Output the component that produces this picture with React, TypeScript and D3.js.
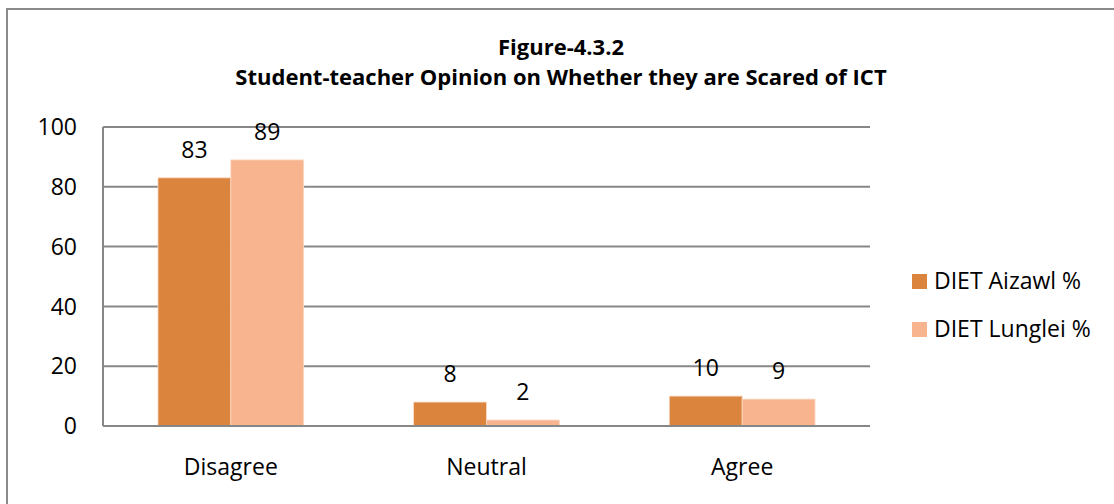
import React from "react";
import * as d3 from "d3";

const categories = ["Disagree", "Neutral", "Agree"];
const seriesNames = ["DIET Aizawl %", "DIET Lunglei %"];
const aizawlValues = [83, 8, 10];
const lungleiValues = [89, 2, 9];
const yTicks = [0, 20, 40, 60, 80, 100];
const titleLines = ["Figure-4.3.2", "Student-teacher Opinion on Whether they are Scared of ICT"];

const colors = ["#db843d", "#f8b48f"];
const FONT = "'Open Sans', 'Liberation Sans', sans-serif";

export default function App() {
  const width = 1114;
  const height = 504;
  const plot = { left: 103, right: 870, top: 127, bottom: 426 };

  const x = d3
    .scaleBand<string>()
    .domain(categories)
    .range([plot.left, plot.right])
    .paddingInner(0.43)
    .paddingOuter(0.215);
  const xInner = d3
    .scaleBand<string>()
    .domain(seriesNames)
    .range([0, x.bandwidth()])
    .padding(0);
  const y = d3.scaleLinear().domain([0, 100]).range([plot.bottom, plot.top]);

  const series = [aizawlValues, lungleiValues];

  return (
    <svg
      width={width}
      height={height}
      style={{ position: "absolute", left: 0, top: 0, background: "#fff" }}
      fontFamily={FONT}
    >
      <rect x={0} y={0} width={width} height={height} fill="#fff" />
      {/* chart frame */}
      <rect x={7} y={9} width={1200} height={600} fill="none" stroke="#8a8a8a" strokeWidth={2} />

      {/* title */}
      <text x={561} y={55} textAnchor="middle" fontSize={22} fontWeight={700} fill="#000">
        {titleLines[0]}
      </text>
      <text x={561} y={85} textAnchor="middle" fontSize={22} fontWeight={700} fill="#000">
        {titleLines[1]}
      </text>

      {/* gridlines and y tick labels */}
      {yTicks.map((t) => (
        <g key={t}>
          <line
            x1={plot.left}
            x2={plot.right}
            y1={y(t)}
            y2={y(t)}
            stroke="#878787"
            strokeWidth={2}
          />
          <text
            x={77}
            y={y(t)}
            dy="0.36em"
            textAnchor="end"
            fontSize={23}
            fill="#000"
          >
            {t}
          </text>
        </g>
      ))}
      <line x1={plot.left} x2={plot.left} y1={plot.top} y2={plot.bottom} stroke="#878787" strokeWidth={2} />

      {/* bars */}
      {categories.map((c, ci) => (
        <g key={c} transform={`translate(${x(c)},0)`}>
          {series.map((vals, si) => {
            const bx = xInner(seriesNames[si]) as number;
            const bw = xInner.bandwidth();
            return (
              <g key={si}>
                <rect
                  x={bx}
                  y={y(vals[ci])}
                  width={bw}
                  height={y(0) - y(vals[ci])}
                  fill={colors[si]}
                  stroke="#fbd9c4"
                  strokeWidth={0.8}
                />
                <text
                  x={bx + bw / 2}
                  y={y(vals[ci]) - 20}
                  textAnchor="middle"
                  fontSize={23}
                  fill="#000"
                >
                  {vals[ci]}
                </text>
              </g>
            );
          })}
        </g>
      ))}
      <line x1={plot.left} x2={plot.right} y1={y(0)} y2={y(0)} stroke="#878787" strokeWidth={2} />

      {/* category labels */}
      {categories.map((c) => (
        <text
          key={c}
          x={(x(c) as number) + x.bandwidth() / 2}
          y={475}
          textAnchor="middle"
          fontSize={23}
          fill="#000"
        >
          {c}
        </text>
      ))}

      {/* legend */}
      {seriesNames.map((s, i) => (
        <g key={s} transform={`translate(912,${274 + i * 48})`}>
          <rect x={0} y={0} width={15} height={15} fill={colors[i]} />
          <text x={22} y={15} fontSize={23} fill="#000">
            {s}
          </text>
        </g>
      ))}
    </svg>
  );
}
